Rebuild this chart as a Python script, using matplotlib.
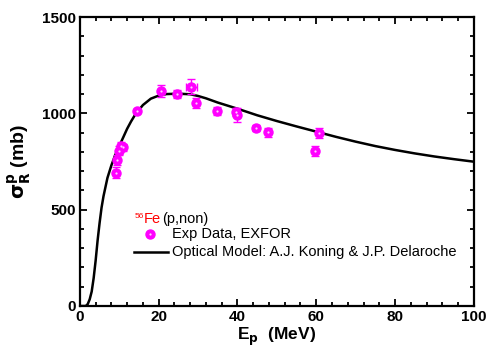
import matplotlib
matplotlib.use("Agg")
import matplotlib.pyplot as plt
from matplotlib.ticker import MultipleLocator

plt.rcParams['font.family'] = ['Liberation Sans', 'DejaVu Sans']

# Experimental data (EXFOR)
exp_E = [9.06, 9.47, 9.9, 10.4, 11.0, 14.4, 20.6, 24.6, 28.3, 29.4, 34.7, 39.6, 39.8, 44.8, 47.7, 59.8, 60.7]
exp_sig = [692, 758, 806, 830, 823, 1012, 1116, 1100, 1138, 1055, 1013, 1007, 991, 922, 901, 806, 898]
exp_err = [30, 25, 22, 20, 20, 12, 30, 20, 40, 25, 22, 22, 35, 15, 25, 25, 28]
exp_xerr = [0, 0, 0, 0, 0, 0, 0, 0, 1.4, 0, 0, 0, 0, 0, 0, 0, 0]

# Optical model curve
om_E = [0, 1.5, 2, 2.5, 3, 3.5, 4, 4.5, 5, 5.5, 6, 7, 8, 9, 10, 11, 12, 13, 14, 16, 18, 20,
        22, 25, 28, 30, 32, 35, 40, 45, 50, 55, 60, 65, 70, 75, 80, 85, 90, 95, 100]
om_sig = [0, 0, 10, 35, 75, 145, 235, 340, 430, 510, 570, 665, 730, 785, 830, 875, 920, 958,
          992, 1043, 1076, 1092, 1100, 1102, 1099, 1090, 1078, 1056, 1024, 990, 960, 932, 905,
          878, 853, 830, 810, 792, 776, 762, 749]

xticks = [0, 20, 40, 60, 80, 100]
yticks = [0, 500, 1000, 1500]

fig = plt.figure(figsize=(4.87, 3.52), dpi=100)
ax = fig.add_axes([0.164, 0.1307, 0.809, 0.821])

ax.plot(om_E, om_sig, color='black', lw=1.8, zorder=2)
ax.errorbar(exp_E, exp_sig, yerr=exp_err, xerr=exp_xerr, fmt='o', color='magenta',
            ms=6.5, mec='magenta', ecolor='magenta', elinewidth=1.0, capsize=3,
            capthick=1.0, zorder=3)
ax.plot(exp_E, exp_sig, 'o', ms=1.6, color='#ffd0ff', mec='none', zorder=4)

ax.set_xlim(0, 100)
ax.set_ylim(0, 1500)
ax.set_xticks(xticks)
ax.set_yticks(yticks)
ax.xaxis.set_minor_locator(MultipleLocator(4))
ax.yaxis.set_minor_locator(MultipleLocator(100))
ax.tick_params(which='both', direction='in', top=True, right=True, width=1.3)
ax.tick_params(which='major', length=5, labelsize=11, pad=3)
ax.tick_params(which='minor', length=3)
for lbl in ax.get_xticklabels() + ax.get_yticklabels():
    lbl.set_fontweight('bold')
for s in ax.spines.values():
    s.set_linewidth(1.6)

ax.set_xlabel(r'E$_\mathbf{p}$  (MeV)', fontsize=12.5, fontweight='bold', labelpad=1)
ax.set_ylabel(r'$\mathbf{\sigma}_\mathbf{R}^\mathbf{p}$ (mb)', fontsize=14, fontweight='bold', labelpad=6)

# Legend-like annotations
ax.text(13.8, 446, '56', color='red', fontsize=6, va='bottom', ha='left')
ax.text(16.1, 433, 'Fe', color='red', fontsize=10.5, va='baseline', ha='left')
ax.text(20.9, 433, '(p,non)', color='black', fontsize=10.5, va='baseline', ha='left')
ax.plot([17.9], [374], 'o', color='magenta', ms=6.5, zorder=3)
ax.plot([17.9], [374], 'o', color='#ffd0ff', ms=1.6, mec='none', zorder=4)
ax.text(23.3, 374, 'Exp Data, EXFOR', fontsize=10.5, va='center', ha='left')
ax.plot([13.7, 22.3], [282, 282], color='black', lw=1.8)
ax.text(23.3, 282, 'Optical Model: A.J. Koning & J.P. Delaroche', fontsize=10.5, va='center', ha='left')

fig.savefig('out.png', dpi=100)
